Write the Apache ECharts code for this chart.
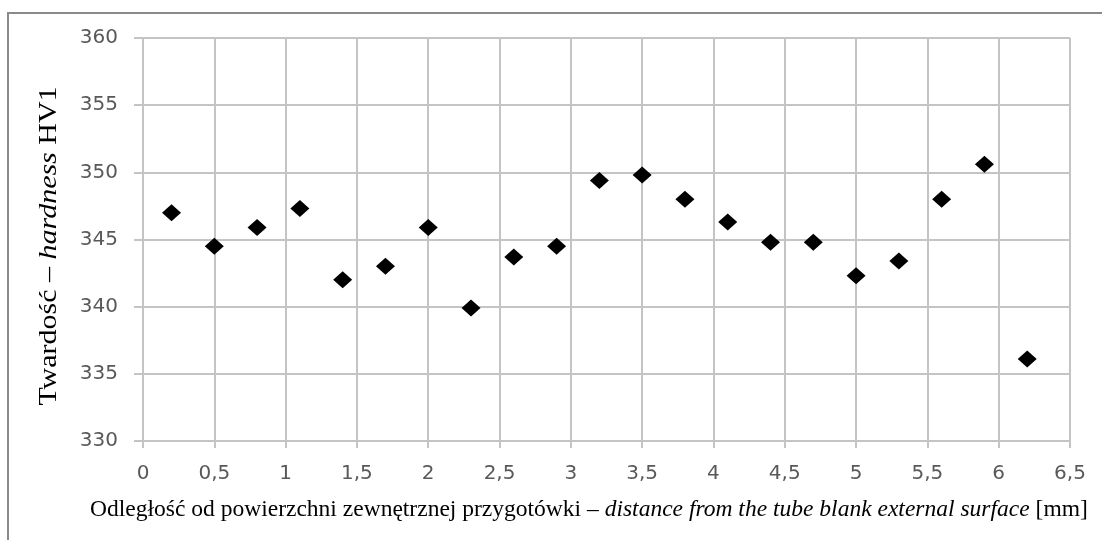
<!DOCTYPE html>
<html>
<head>
<meta charset="utf-8">
<script src="https://cdn.jsdelivr.net/npm/echarts@6/dist/echarts.min.js"></script>
<style>html,body{margin:0;padding:0;background:#fff}#c{width:1102px;height:540px}</style>
</head>
<body>
<div id="c"></div>
<script>
const distances = [0.2, 0.5, 0.8, 1.1, 1.4, 1.7, 2.0, 2.3, 2.6, 2.9, 3.2, 3.5, 3.8, 4.1, 4.4, 4.7, 5.0, 5.3, 5.6, 5.9, 6.2];
const hardness  = [347.0, 344.5, 345.9, 347.3, 342.0, 343.0, 345.9, 339.9, 343.7, 344.5, 349.4, 349.8, 348.0, 346.3, 344.8, 344.8, 342.3, 343.4, 348.0, 350.6, 336.1];
const xAxisRange = { min: 0, max: 6.5, interval: 0.5 };
const yAxisRange = { min: 330, max: 360, interval: 5 };
const yTitle = ['Twardość – ', 'hardness', ' HV1'];
const xTitle = ['Odległość od powierzchni zewnętrznej przygotówki – ', 'distance from the tube blank external surface', ' [mm]'];

const points = distances.map((d, i) => [d, hardness[i]]);
const gridColor = '#c4c4c4';
const labelStyle = { color: '#595959', fontFamily: 'DejaVu Sans', fontSize: 20 };

const chart = echarts.init(document.getElementById('c'), null, { renderer: 'canvas' });
chart.setOption({
  animation: false,
  backgroundColor: '#fff',
  grid: { left: 143, right: 32, top: 38, bottom: 99 },
  xAxis: {
    type: 'value',
    min: xAxisRange.min, max: xAxisRange.max, interval: xAxisRange.interval,
    axisLine: { show: true, lineStyle: { color: gridColor, width: 2 } },
    axisTick: { show: true, length: 7, lineStyle: { color: gridColor, width: 2 } },
    splitLine: { show: true, lineStyle: { color: gridColor, width: 2 } },
    axisLabel: Object.assign({ margin: 23, formatter: v => String(v).replace('.', ',') }, labelStyle)
  },
  yAxis: {
    type: 'value',
    min: yAxisRange.min, max: yAxisRange.max, interval: yAxisRange.interval,
    axisLine: { show: true, lineStyle: { color: gridColor, width: 2 } },
    axisTick: { show: true, length: 9, lineStyle: { color: gridColor, width: 2 } },
    splitLine: { show: true, lineStyle: { color: gridColor, width: 2 } },
    axisLabel: Object.assign({ margin: 25 }, labelStyle)
  },
  graphic: [
    {
      type: 'polyline',
      shape: { points: [[8, 540], [8, 13], [1102, 13]] },
      style: { stroke: '#8a8a8a', lineWidth: 2, fill: null }
    },
    {
      type: 'text',
      x: 49, y: 246,
      rotation: Math.PI / 2,
      scaleX: 1.2,
      style: {
        text: yTitle[0] + '{i|' + yTitle[1] + '}' + yTitle[2],
        font: '25px "Liberation Serif"',
        fill: '#000',
        align: 'center',
        verticalAlign: 'middle',
        rich: { i: { fontFamily: 'Liberation Serif', fontSize: 25, fontStyle: 'italic', fill: '#000' } }
      }
    },
    {
      type: 'text',
      x: 90, y: 510,
      scaleX: 0.98,
      style: {
        text: xTitle[0] + '{i|' + xTitle[1] + '}' + xTitle[2],
        font: '24px "Liberation Serif"',
        fill: '#000',
        align: 'left',
        verticalAlign: 'middle',
        rich: { i: { fontFamily: 'Liberation Serif', fontSize: 24, fontStyle: 'italic', fill: '#000' } }
      }
    }
  ],
  series: [{
    type: 'scatter',
    data: points,
    symbol: 'diamond',
    symbolSize: [19, 17],
    itemStyle: { color: '#000', opacity: 1 }
  }]
});
</script>
</body>
</html>
